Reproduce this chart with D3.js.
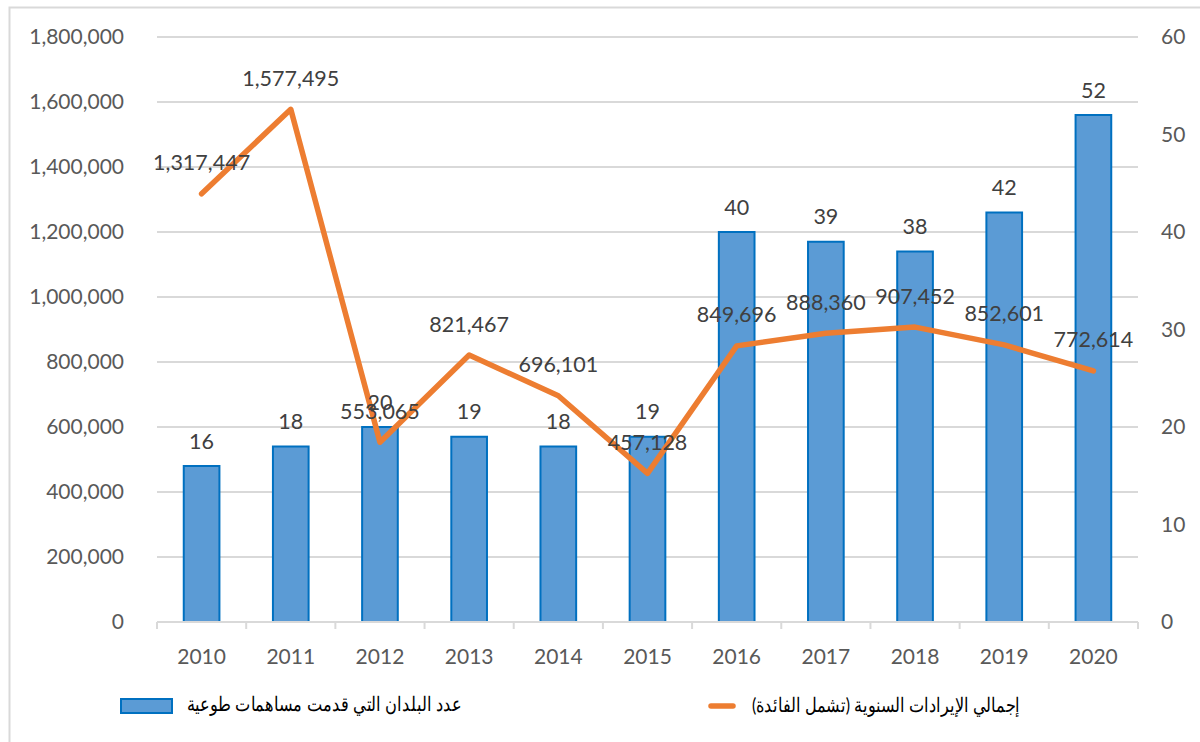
<!DOCTYPE html>
<html>
<head>
<meta charset="utf-8">
<script src="https://cdn.jsdelivr.net/npm/d3@7"></script>
<style>
  body { margin: 0; background: #fff; }
  text { font-family: Lato, "Open Sans", sans-serif; }
</style>
</head>
<body>
<div id="chart"></div>
<script>
// data
const years = ["2010", "2011", "2012", "2013", "2014", "2015", "2016", "2017", "2018", "2019", "2020"];
const revenue = [1317447, 1577495, 553065, 821467, 696101, 457128, 849696, 888360, 907452, 852601, 772614];
const countries = [16, 18, 20, 19, 18, 19, 40, 39, 38, 42, 52];
const leftTicks = [0, 200000, 400000, 600000, 800000, 1000000, 1200000, 1400000, 1600000, 1800000];
const rightTicks = [0, 10, 20, 30, 40, 50, 60];
const barLegend = "عدد البلدان التي قدمت مساهمات طوعية";
const lineLegend = "إجمالي الإيرادات السنوية (تشمل الفائدة)";

const width = 1200, height = 742;
const margin = {top: 37, right: 62, bottom: 120, left: 157};

const svg = d3.select("#chart").append("svg")
  .attr("width", width)
  .attr("height", height);

// outer frame
svg.append("rect")
  .attr("x", 9.5).attr("y", 7.5)
  .attr("width", 1200).attr("height", 760)
  .attr("fill", "none")
  .attr("stroke", "#d9d9d9")
  .attr("stroke-width", 2);

const x = d3.scaleBand()
  .domain(years)
  .range([margin.left, width - margin.right])
  .paddingInner(0.6)
  .paddingOuter(0.3);

const yL = d3.scaleLinear()
  .domain([0, 1800000])
  .range([height - margin.bottom, margin.top]);

const yR = d3.scaleLinear()
  .domain([0, 60])
  .range([height - margin.bottom, margin.top]);

const fmt = d3.format(",");

// gridlines
svg.append("g")
  .selectAll("line")
  .data(leftTicks.slice(1))
  .enter().append("line")
  .attr("x1", margin.left)
  .attr("x2", width - margin.right)
  .attr("y1", d => yL(d))
  .attr("y2", d => yL(d))
  .attr("stroke", "#d9d9d9")
  .attr("stroke-width", 2);

// left axis
svg.append("g")
  .attr("transform", `translate(${margin.left},0)`)
  .call(d3.axisLeft(yL).tickValues(leftTicks).tickFormat(fmt).tickSize(0).tickPadding(33))
  .call(g => g.select(".domain").remove())
  .selectAll("text")
  .attr("font-size", 21)
  .attr("fill", "#595959");

// right axis
svg.append("g")
  .attr("transform", `translate(${width - margin.right},0)`)
  .call(d3.axisRight(yR).tickValues(rightTicks).tickSize(0).tickPadding(23))
  .call(g => g.select(".domain").remove())
  .selectAll("text")
  .attr("font-size", 21)
  .attr("fill", "#595959");

// bars
svg.append("g")
  .selectAll("rect")
  .data(countries)
  .enter().append("rect")
  .attr("x", (d, i) => x(years[i]))
  .attr("y", d => yR(d))
  .attr("width", x.bandwidth())
  .attr("height", d => yR(0) - yR(d))
  .attr("fill", "#5b9bd5")
  .attr("stroke", "#0070c0")
  .attr("stroke-width", 2);

// x axis
const y0 = height - margin.bottom;
const step = x.step();
const bounds = d3.range(years.length + 1).map(i => margin.left + i * step);
svg.append("line")
  .attr("x1", margin.left).attr("x2", width - margin.right)
  .attr("y1", y0).attr("y2", y0)
  .attr("stroke", "#d9d9d9").attr("stroke-width", 2);
svg.append("g")
  .selectAll("line")
  .data(bounds)
  .enter().append("line")
  .attr("x1", d => d).attr("x2", d => d)
  .attr("y1", y0).attr("y2", y0 + 7)
  .attr("stroke", "#d9d9d9").attr("stroke-width", 2);

svg.append("g")
  .attr("transform", `translate(0,${y0})`)
  .call(d3.axisBottom(x).tickSize(0).tickPadding(27))
  .call(g => g.select(".domain").remove())
  .selectAll("text")
  .attr("font-size", 21)
  .attr("fill", "#595959");

// line
const line = d3.line()
  .x((d, i) => x(years[i]) + x.bandwidth() / 2)
  .y(d => yL(d));

svg.append("path")
  .datum(revenue)
  .attr("d", line)
  .attr("fill", "none")
  .attr("stroke", "#ed7d31")
  .attr("stroke-width", 5.5)
  .attr("stroke-linejoin", "round")
  .attr("stroke-linecap", "round");

// bar labels
svg.append("g")
  .selectAll("text")
  .data(countries)
  .enter().append("text")
  .attr("x", (d, i) => x(years[i]) + x.bandwidth() / 2)
  .attr("y", d => yR(d) - 25)
  .attr("dy", "0.35em")
  .attr("text-anchor", "middle")
  .attr("font-size", 21.5)
  .attr("fill", "#404040")
  .text(d => d);

// line labels
svg.append("g")
  .selectAll("text")
  .data(revenue)
  .enter().append("text")
  .attr("x", (d, i) => x(years[i]) + x.bandwidth() / 2)
  .attr("y", d => yL(d) - 31)
  .attr("dy", "0.35em")
  .attr("text-anchor", "middle")
  .attr("font-size", 21.5)
  .attr("fill", "#404040")
  .text(d => fmt(d));

// legend
const legend = svg.append("g");
legend.append("rect")
  .attr("x", 121).attr("y", 699)
  .attr("width", 51).attr("height", 14)
  .attr("fill", "#5b9bd5")
  .attr("stroke", "#0070c0")
  .attr("stroke-width", 2);
legend.append("text")
  .attr("x", 324).attr("y", 704)
  .attr("dy", "0.35em")
  .attr("text-anchor", "middle")
  .attr("font-family", "'DejaVu Sans', sans-serif")
  .attr("font-size", 20)
  .attr("fill", "#000")
  .attr("textLength", 275)
  .attr("lengthAdjust", "spacingAndGlyphs")
  .text(barLegend);

legend.append("line")
  .attr("x1", 711).attr("x2", 733)
  .attr("y1", 706).attr("y2", 706)
  .attr("stroke", "#ed7d31")
  .attr("stroke-width", 5.5)
  .attr("stroke-linecap", "round");
legend.append("text")
  .attr("x", 886).attr("y", 705)
  .attr("dy", "0.35em")
  .attr("text-anchor", "middle")
  .attr("font-family", "'DejaVu Sans', sans-serif")
  .attr("font-size", 20)
  .attr("fill", "#000")
  .attr("textLength", 268)
  .attr("lengthAdjust", "spacingAndGlyphs")
  .text(lineLegend);
</script>
</body>
</html>
